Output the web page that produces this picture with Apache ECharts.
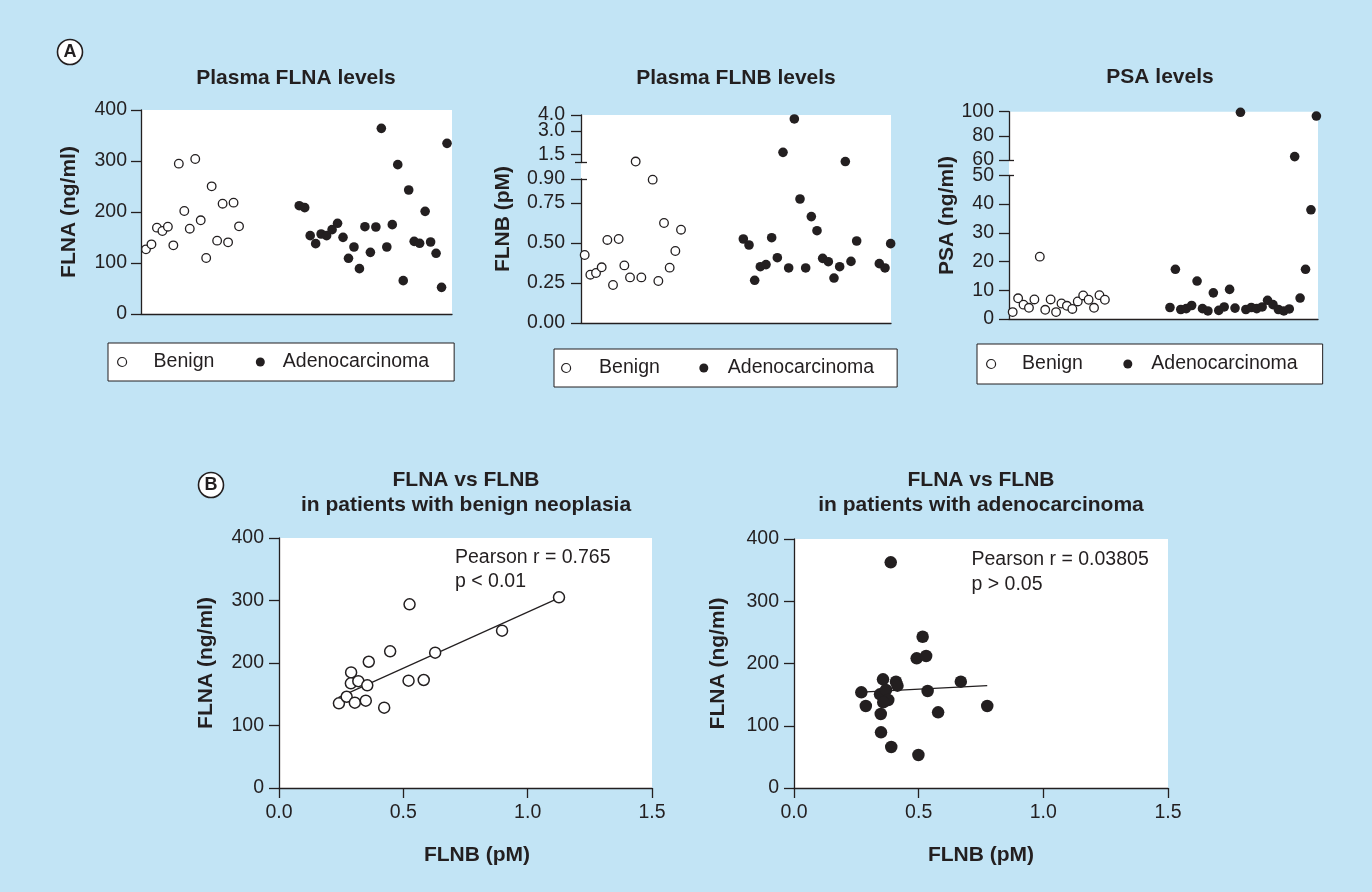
<!DOCTYPE html>
<html><head><meta charset="utf-8">
<script src="https://cdn.jsdelivr.net/npm/echarts@6.0.0/dist/echarts.min.js"></script>
<style>html,body{margin:0;padding:0;background:#c2e4f5}#c{width:1372px;height:892px}</style>
</head><body><div id="c"></div>
<script>
// ---------------- DATA ----------------
// Panel A: individual patients in order
const benignFLNA = [126.8,136.6,169.3,162.7,171.2,134.6,294.8,202,167.3,303.9,183.7,109.8,250.3,143.8,216.3,140.5,218.3,171.9];
const adenoFLNA  = [212.4,208.5,153.6,137.9,156.9,153.6,165.4,177.8,150.3,109.2,131.4,88.9,171.2,120.9,170.6,364,131.4,175.2,292.8,65.4,243.1,142.5,138.6,201.3,141.2,119,52.3,334.6];
const benignFLNB = [0.425,0.302,0.3125,0.348,0.519,0.2375,0.525,0.36,0.285,1.06,0.285,null,0.896,0.2625,0.625,0.346,0.45,0.583];
const adenoFLNB  = [0.525,0.4875,0.267,0.352,0.365,0.533,0.408,1.64,0.344,3.75,0.775,0.344,0.665,0.577,0.404,0.383,0.281,0.352,1.06,0.385,0.5125,null,null,null,0.371,0.344,0.496];
const benignPSA  = [2.4,7.2,5.0,3.9,6.8,21.7,3.2,6.8,2.4,5.4,4.6,3.5,6.1,8.2,6.7,3.9,8.3,6.7];
const adenoPSA   = [4.0,17.3,3.3,3.6,4.7,13.2,3.6,2.8,9.1,3.0,4.2,10.3,3.8,99.5,3.3,4.0,3.6,4.2,6.5,5.0,3.3,2.8,3.5,62.8,7.3,17.3,38.0,96.4];
// Panel B: FLNA vs FLNB
const b1FLNB = [0.241,0.272,0.29,0.289,0.305,0.319,0.349,0.355,0.361,0.423,0.447,0.521,0.525,0.582,0.628,0.897,1.126];
const b1FLNA = [135.5,146,185,167.5,136.5,171,139.7,164.3,202,128.5,218.7,171.7,293.9,172.8,216.5,251.7,305.1];
const b2FLNB = [0.388,0.516,0.492,0.530,0.357,0.409,0.415,0.669,0.27,0.345,0.369,0.536,0.378,0.358,0.288,0.775,0.348,0.578,0.349,0.39,0.499];
const b2FLNA = [362.5,243,208.3,212,174.6,170.8,164.4,170.8,153.7,150.5,157.4,155.8,141.4,137.6,131.7,131.7,118.9,121.6,89.4,65.9,53];
// regression lines (end points)
const fitB1X = [0.24, 1.12], fitB1Y = [145, 303];
const fitB2X = [0.27, 0.775], fitB2Y = [154, 164.5];
// tick labels
const flnaTicks = [0,100,200,300,400];
const flnbLowTicks = [0,0.25,0.5,0.75,0.9];
const flnbHighTicks = [1.5,3.0,4.0];
const psaLowTicks = [0,10,20,30,40,50];
const psaHighTicks = [60,80,100];
const legendNames = ['Benign','Adenocarcinoma'];
const statsB1 = ['Pearson r = 0.765','p < 0.01'];
const statsB2 = ['Pearson r = 0.03805','p > 0.05'];

// ---------------- LAYOUT / STYLE ----------------
const INK = '#231f20';
const FF = '"Liberation Sans", Arial, Helvetica, sans-serif';
const LS = {color: INK, width: 1.3};
const LBL = 19.5;

function pts(vals, offset, keep) {
  const out = [];
  vals.forEach((v, i) => { if (v != null && keep(v)) out.push([i + offset, v]); });
  return out;
}
function pairs(xs, ys) { return xs.map((x, i) => [x, ys[i]]); }
const all = () => true;

const grids = [
  {left:141, top:110, width:311, height:204, show:true, backgroundColor:'#fff', borderWidth:0}, //0 A1
  {left:581, top:115, width:310, height:208, show:true, backgroundColor:'#fff', borderWidth:0}, //1 A2 bg
  {left:581, top:115, width:310, height:47.5},   //2 A2 high
  {left:581, top:179, width:310, height:144},    //3 A2 low
  {left:1009, top:111.7, width:309, height:207.3, show:true, backgroundColor:'#fff', borderWidth:0}, //4 A3 bg
  {left:1009, top:111.7, width:309, height:48.3},  //5 A3 high
  {left:1009, top:175.3, width:309, height:143.7}, //6 A3 low
  {left:279, top:538, width:373, height:250, show:true, backgroundColor:'#fff', borderWidth:0}, //7 B1
  {left:794, top:539, width:374, height:249, show:true, backgroundColor:'#fff', borderWidth:0}  //8 B2
].map(g => Object.assign({outerBoundsMode:'none', containLabel:false}, g));

const hidden = {axisLine:{show:false}, axisTick:{show:false}, axisLabel:{show:false}, splitLine:{show:false}};
function xA(gi, min, max, showLine) {
  return Object.assign({gridIndex:gi, type:'value', min, max, position:'bottom'}, hidden,
    {axisLine:{show:!!showLine, onZero:false, lineStyle:LS}});
}
function yMain(gi, min, max, ticks, fmt, margin, labels) {
  return {gridIndex:gi, type:'value', min, max, position:'left',
    axisLine:{show:true, onZero:false, lineStyle:LS},
    axisTick:{show:true, length:10, lineStyle:LS, customValues:ticks},
    axisLabel:{show:true, margin, fontSize:LBL, color:INK, fontFamily:FF, customValues:labels || ticks, formatter:fmt,
      hideOverlap:false, showMinLabel:true, showMaxLabel:true},
    splitLine:{show:false}};
}
function yLabelOnly(gi, min, max, vals, fmt, margin) {
  return {gridIndex:gi, type:'value', min, max, position:'left',
    axisLine:{show:false, onZero:false}, axisTick:{show:false}, splitLine:{show:false},
    axisLabel:{show:true, margin, fontSize:LBL, color:INK, fontFamily:FF, customValues:vals, formatter:fmt,
      hideOverlap:false, showMinLabel:true, showMaxLabel:true}};
}
function yBreak(gi, min, max, v, inside, len) {
  return {gridIndex:gi, type:'value', min, max, position:'left',
    axisLine:{show:false, onZero:false}, axisLabel:{show:false}, splitLine:{show:false},
    axisTick:{show:true, inside, length:len, lineStyle:LS, customValues:[v]}};
}

const xAxes = [
  xA(0, -0.91, 55.91, true),
  xA(1, -0.65, 54.06, false),
  xA(2, -0.65, 54.06, false),
  xA(3, -0.65, 54.06, true),
  xA(4, -0.68, 56.3, false),
  xA(5, -0.68, 56.3, false),
  xA(6, -0.68, 56.3, true)
];
function bX(gi, padL) {
  return {gridIndex:gi, type:'value', min:0, max:1.5, interval:0.5, position:'bottom',
    axisLine:{show:true, onZero:false, lineStyle:LS},
    axisTick:{show:true, length:10, lineStyle:LS},
    axisLabel:{margin:15, fontSize:LBL, color:INK, fontFamily:FF, formatter:v => v.toFixed(1),
      hideOverlap:false, showMinLabel:true, showMaxLabel:true},
    splitLine:{show:false},
    name:'FLNB (pM)', nameLocation:'middle', nameGap:57,
    nameTextStyle:{fontSize:21, fontWeight:'bold', color:INK, fontFamily:FF, padding:[0,0,0,padL]}};
}
xAxes.push(bX(7, 23), bX(8, 0));

const f1 = v => v.toFixed(1);
const yAxes = [
  yMain(0, 0, 400, flnaTicks, v => String(v), 14),      //0
  Object.assign({gridIndex:1, type:'value', min:0, max:1, position:'left'}, hidden), //1
  yMain(2, 1, 4, flnbHighTicks, f1, 16, flnbHighTicks.filter((v, i) => i % 2 === 0)), //2 (1.5, 4.0)
  yMain(3, 0, 0.9, flnbLowTicks, v => v.toFixed(2), 16),//3
  Object.assign({gridIndex:4, type:'value', min:0, max:1, position:'left'}, hidden), //4
  yMain(5, 60, 100, psaHighTicks, v => String(v), 15),  //5
  yMain(6, 0, 50, psaLowTicks, v => String(v), 15),     //6
];
function bY(gi, gap) {
  const a = yMain(gi, 0, 400, flnaTicks, v => String(v), 15);
  return Object.assign(a, {name:'FLNA (ng/ml)', nameLocation:'middle', nameGap:gap, nameRotate:90,
    nameTextStyle:{fontSize:21, fontWeight:'bold', color:INK, fontFamily:FF}});
}
yAxes.push(bY(7, 62), bY(8, 65)); //7, 8
yAxes.push(
  yBreak(2, 1, 4, 1, true, 6),   //9
  yBreak(2, 1, 4, 1, false, 6),  //10
  yBreak(3, 0, 0.9, 0.9, true, 6), //11
  yBreak(5, 60, 100, 60, true, 5), //12
  yBreak(6, 0, 50, 50, true, 5),   //13
  yLabelOnly(2, 1, 4, flnbHighTicks.filter((v, i) => i % 2 === 1), f1, 16) //14 (3.0)
);

const openA = {color:'#fff', borderColor:INK, borderWidth:1.3, opacity:1};
const fillA = {color:INK, borderWidth:0, opacity:1};
function sc(name, data, xi, yi, size, style) {
  return {type:'scatter', name, data, xAxisIndex:xi, yAxisIndex:yi, symbol:'circle',
    symbolSize:size, itemStyle:style, z:3, silent:true, clip:false};
}
const OFF1 = 28, OFF2 = 28, OFF3 = 29;
const lowF = v => v <= 0.9, highF = v => v >= 1.0;
const lowP = v => v <= 50, highP = v => v >= 60;

const series = [
  sc('Benign', pts(benignFLNA, 0, all), 0, 0, 8.6, openA),
  sc('Adenocarcinoma', pts(adenoFLNA, OFF1, all), 0, 0, 9.6, fillA),
  sc('Benign', pts(benignFLNB, 0, lowF), 3, 3, 8.6, openA),
  sc('Benign', pts(benignFLNB, 0, highF), 2, 2, 8.6, openA),
  sc('Adenocarcinoma', pts(adenoFLNB, OFF2, lowF), 3, 3, 9.6, fillA),
  sc('Adenocarcinoma', pts(adenoFLNB, OFF2, highF), 2, 2, 9.6, fillA),
  sc('Benign', pts(benignPSA, 0, lowP), 6, 6, 8.6, openA),
  sc('Benign', pts(benignPSA, 0, highP), 5, 5, 8.6, openA),
  sc('Adenocarcinoma', pts(adenoPSA, OFF3, lowP), 6, 6, 9.6, fillA),
  sc('Adenocarcinoma', pts(adenoPSA, OFF3, highP), 5, 5, 9.6, fillA),
  sc('Benign', pairs(b1FLNB, b1FLNA), 7, 7, 11, {color:'#fff', borderColor:INK, borderWidth:1.5, opacity:1}),
  sc('Adenocarcinoma', pairs(b2FLNB, b2FLNA), 8, 8, 12.5, fillA),
  {type:'line', name:'fitB1', data:pairs(fitB1X, fitB1Y), xAxisIndex:7, yAxisIndex:7, symbol:'none',
   lineStyle:{color:INK, width:1.2}, z:2, silent:true},
  {type:'line', name:'fitB2', data:pairs(fitB2X, fitB2Y), xAxisIndex:8, yAxisIndex:8, symbol:'none',
   lineStyle:{color:INK, width:1.2}, z:2, silent:true}
];

function legend(left, top, pad, gap, padB, padA) {
  return {left, top, orient:'horizontal', padding:pad, itemGap:gap, itemWidth:9, itemHeight:9,
    borderColor:INK, borderWidth:1, backgroundColor:'#fff', selectedMode:false,
    textStyle:{fontSize:LBL, color:INK, fontFamily:FF},
    data:[
      {name:legendNames[0], icon:'circle', itemStyle:{color:'#fff', borderColor:INK, borderWidth:1.2, opacity:1}, textStyle:{padding:[0,0,0,padB]}},
      {name:legendNames[1], icon:'circle', itemStyle:{color:INK, borderWidth:0, opacity:1}, textStyle:{padding:[0,0,0,padA]}}
    ]};
}
const legends = [
  legend(108, 343, [9,25,9,9], 41.5, 22, 13),
  legend(554, 349, [9,23,9,7], 39.5, 23.5, 14.5),
  legend(977, 344, [10,25,10,9], 40.5, 21.5, 14)
];

function txt(x, y, text, opts) {
  return {type:'text', x, y, silent:true, z:10, style:Object.assign({text, fill:INK, fontFamily:FF,
    align:'center', verticalAlign:'middle'}, opts)};
}
const bold21 = {fontSize:21, fontWeight:'bold'};
const graphics = [
  {type:'circle', shape:{cx:70, cy:52, r:12.5}, style:{fill:'#fff', stroke:INK, lineWidth:1.6}, z:10},
  txt(70, 52.5, 'A', {fontSize:18, fontWeight:'bold'}),
  {type:'circle', shape:{cx:211, cy:485, r:12.5}, style:{fill:'#fff', stroke:INK, lineWidth:1.6}, z:10},
  txt(211, 485.5, 'B', {fontSize:18, fontWeight:'bold'}),
  txt(296, 78, 'Plasma FLNA levels', bold21),
  txt(736, 78, 'Plasma FLNB levels', bold21),
  txt(1160, 77.5, 'PSA levels', bold21),
  txt(466, 492.5, 'FLNA vs FLNB\nin patients with benign neoplasia', Object.assign({lineHeight:25}, bold21)),
  txt(981, 492.5, 'FLNA vs FLNB\nin patients with adenocarcinoma', Object.assign({lineHeight:25}, bold21)),
  Object.assign(txt(69, 212, 'FLNA (ng/ml)', bold21), {rotation:Math.PI/2}),
  Object.assign(txt(503.5, 219, 'FLNB (pM)', bold21), {rotation:Math.PI/2}),
  Object.assign(txt(947, 215.5, 'PSA (ng/ml)', bold21), {rotation:Math.PI/2}),
  txt(455, 546, statsB1.join('\n'), {fontSize:LBL, lineHeight:24, align:'left', verticalAlign:'top'}),
  txt(971.5, 547, statsB2.join('\n'), {fontSize:LBL, lineHeight:25, align:'left', verticalAlign:'top'})
];

const chart = echarts.init(document.getElementById('c'), null, {renderer:'canvas'});
chart.setOption({
  backgroundColor:'#c2e4f5',
  animation:false,
  grid:grids, xAxis:xAxes, yAxis:yAxes, series, legend:legends, graphic:graphics,
  tooltip:{show:false}
});
</script>
</body></html>
